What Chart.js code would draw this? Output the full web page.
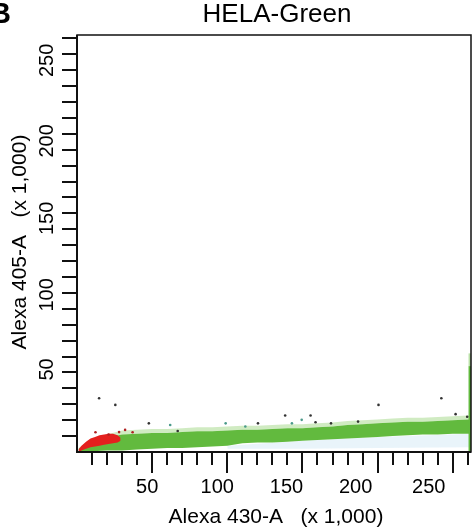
<!DOCTYPE html>
<html><head><meta charset="utf-8">
<script src="https://cdn.jsdelivr.net/npm/chart.js@4.4.1/dist/chart.umd.min.js"></script>
<style>html,body{margin:0;padding:0;background:#fff}#wrap{width:475px;height:531px}</style>
</head><body><div id="wrap"><canvas id="c" width="475" height="531"></canvas></div>
<script>
// ---- data (values in thousands) ----
const titleText = "HELA-Green";
const xTitle = "Alexa 430-A   (x 1,000)";
const yTitle = "Alexa 405-A   (x 1,000)";
const axisMax = 262.144;
const minorTicks = [10,20,30,40,50,60,70,80,90,100,110,120,130,140,150,160,170,180,190,200,210,220,230,240,250,260];
const majorTicks = [50,100,150,200,250];
const tickLabels = ["50","100","150","200","250"];

// green band: x positions, lower and upper edges
const bandX    = [1, 5, 10, 20, 30, 40, 50, 60, 70, 80, 90, 100, 110, 120, 130, 140, 150, 160, 170, 180, 190, 200, 210, 220, 230, 240, 250, 260, 262];
const bandLow  = [0, 0, 0.5, 1, 1, 1.5, 2, 2.5, 2.5, 3, 3.5, 4, 5.5, 6, 6, 6.5, 7, 7.5, 8, 8.5, 9, 9.5, 10, 10.5, 11, 11, 11.5, 11.5, 11.5];
const bandHigh = [2, 4, 7, 9, 11, 11.5, 12, 12, 12.5, 13, 13, 13.5, 14, 14, 14.5, 15, 15, 15.5, 16, 17, 17.5, 18, 18.5, 19, 19, 19.5, 20, 20.5, 20.5];
const fringeHigh=[2.5, 5, 8.5, 11, 13.5, 14, 14.5, 14.5, 15, 15.5, 15.5, 16, 16.5, 16.5, 17, 17.5, 17.5, 18, 18.5, 19.5, 20, 20.5, 21, 21.5, 21.5, 22, 22.5, 23, 23];
// faint haze under the band
const hazeX   = [100, 150, 200, 262];
const hazeLow = [2, 2, 2.5, 3];
const hazeTop = [4, 7, 9.5, 11.5];
// red cluster near origin
const redX    = [1, 3, 6, 9, 12, 15, 18, 21, 24, 27, 29];
const redLow  = [0, 1, 2, 3, 3.5, 4, 4.5, 5, 5.5, 6, 7];
const redHigh = [1.5, 4, 6.5, 8.5, 9.5, 10.5, 11, 11.5, 11.5, 10.5, 9];
// saturated events at the right edge
const edgeX = [261.5, 261.5];
const edgeY = [0, 54];
const edgePaleY = [54, 62];
// sparse events
const darkDots = [[14.7,33.8],[25.5,29.6],[47.8,18],[138.5,22.9],[155.4,22.9],[158.7,18.7],[200.6,29.6],[242.4,33.8],[251.9,23.8],[187,19.1],[169,18],[120.4,18],[67,13.2],[259.6,22.2]];
const redDots  = [[12.3,12.4],[32,13.9],[37,12.4],[21,11],[28,12.5]];
const tealDots = [[98.9,18],[143,18],[149.5,20.2],[62,17],[112,16]];

// label placement nudges (pixels)
const xLabelShift = [-5, -10, -16, -22, -24];
const yLabelShift = [-3, 2, 5, 7, 6];

const toPts = (xs, ys) => xs.map((x, i) => ({x: x, y: ys[i]}));
const toXY = arr => arr.map(p => ({x: p[0], y: p[1]}));

const GREEN = 'rgb(98,186,62)';
const PALE  = 'rgba(150,210,120,0.45)';
const HAZE  = 'rgba(215,235,245,0.55)';
const RED   = 'rgb(228,32,30)';

const axesPlugin = {
  id: 'facsAxes',
  afterDraw(chart) {
    const ctx = chart.ctx, a = chart.chartArea;
    const xs = chart.scales.x, ys = chart.scales.y;
    ctx.save();
    ctx.fillStyle = '#000';
    ctx.font = 'bold 29px "Liberation Sans", Arial, sans-serif';
    ctx.textBaseline = 'alphabetic';
    ctx.textAlign = 'left';
    ctx.fillText('B', -10, 23);
    ctx.font = '26px "Liberation Sans", Arial, sans-serif';
    ctx.textAlign = 'center';
    ctx.fillText(titleText, 277, 22);
    ctx.strokeStyle = '#111';
    ctx.lineWidth = 1.5;
    ctx.strokeRect(a.left, a.top, a.right - a.left, a.bottom - a.top);
    ctx.lineWidth = 2;
    ctx.beginPath();
    ctx.moveTo(a.left - 1, a.bottom); ctx.lineTo(a.right, a.bottom);
    ctx.moveTo(a.left, a.top); ctx.lineTo(a.left, a.bottom + 1);
    ctx.stroke();
    ctx.lineWidth = 2;
    ctx.beginPath();
    minorTicks.forEach(v => {
      const px = Math.round(xs.getPixelForValue(v));
      const len = majorTicks.includes(v) ? 21 : 13;
      ctx.moveTo(px, a.bottom + 1); ctx.lineTo(px, a.bottom + len);
    });
    minorTicks.forEach(v => {
      const py = Math.round(ys.getPixelForValue(v));
      ctx.moveTo(a.left - 15, py); ctx.lineTo(a.left, py);
    });
    ctx.stroke();
    ctx.font = '20px "Liberation Sans", Arial, sans-serif';
    ctx.textAlign = 'center';
    ctx.textBaseline = 'middle';
    majorTicks.forEach((v, i) => {
      ctx.fillText(tickLabels[i], xs.getPixelForValue(v) + xLabelShift[i], 487);
    });
    majorTicks.forEach((v, i) => {
      ctx.save();
      ctx.translate(47, ys.getPixelForValue(v) + yLabelShift[i]);
      ctx.rotate(-Math.PI / 2);
      ctx.fillText(tickLabels[i], 0, 0);
      ctx.restore();
    });
    ctx.font = '21px "Liberation Sans", Arial, sans-serif';
    ctx.fillText(xTitle, 276, 517);
    ctx.save();
    ctx.translate(20, 242);
    ctx.rotate(-Math.PI / 2);
    ctx.fillText(yTitle, 0, 0);
    ctx.restore();
    ctx.restore();
  }
};

const lineDs = (data, extra) => Object.assign({
  data: data, showLine: true, pointRadius: 0, borderWidth: 0, borderColor: 'rgba(0,0,0,0)', fill: false, tension: 0
}, extra);

new Chart(document.getElementById('c'), {
  type: 'scatter',
  data: {
    datasets: [
      lineDs(toPts(hazeX, hazeLow), {order: 12}),                                         // 0
      lineDs(toPts(hazeX, hazeTop), {order: 12, fill: '-1', backgroundColor: HAZE}),      // 1
      lineDs(toPts(bandX, bandHigh), {order: 10}),                                        // 2
      lineDs(toPts(bandX, fringeHigh), {order: 10, fill: '-1', backgroundColor: PALE}),   // 3
      lineDs(toPts(bandX, bandLow), {order: 9}),                                          // 4
      lineDs(toPts(bandX, bandHigh), {order: 9, fill: '-1', backgroundColor: GREEN}),     // 5
      lineDs(toPts(redX, redLow), {order: 5}),                                            // 6
      lineDs(toPts(redX, redHigh), {order: 5, fill: '-1', backgroundColor: RED}),         // 7
      lineDs(toPts(edgeX, edgePaleY), {order: 4, borderWidth: 3, borderColor: 'rgba(140,205,110,0.6)'}),
      lineDs(toPts(edgeX, edgeY), {order: 4, borderWidth: 3, borderColor: GREEN}),
      {data: toXY(darkDots), pointRadius: 1.3, pointBackgroundColor: '#333', pointBorderWidth: 0, order: 1},
      {data: toXY(redDots), pointRadius: 1.3, pointBackgroundColor: '#b02020', pointBorderWidth: 0, order: 1},
      {data: toXY(tealDots), pointRadius: 1.3, pointBackgroundColor: '#4a9a8a', pointBorderWidth: 0, order: 1}
    ]
  },
  options: {
    responsive: false,
    animation: false,
    layout: {padding: {left: 77, right: 1, top: 35, bottom: 79}},
    plugins: {legend: {display: false}, tooltip: {enabled: false}, title: {display: false}},
    scales: {
      x: {type: 'linear', min: 0, max: axisMax, display: false},
      y: {type: 'linear', min: 0, max: axisMax, display: false}
    }
  },
  plugins: [axesPlugin]
});
</script></body></html>
